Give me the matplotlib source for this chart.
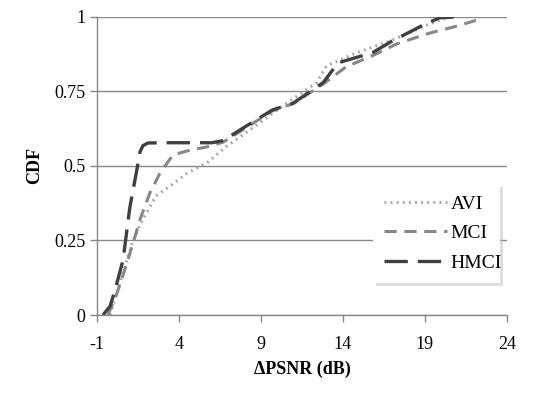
import matplotlib
matplotlib.use("Agg")
import matplotlib.pyplot as plt

plt.rcParams['font.family'] = ['Liberation Serif', 'DejaVu Serif']
plt.rcParams['axes.unicode_minus'] = False

# CDF curves
avi_x = [-0.2, 0.3, 0.8, 1.2, 1.6, 2.0, 2.6, 3.4, 4.5, 5.7, 6.9, 8.3, 10.3, 12.4, 13.0, 14.85, 16.9, 19.3, 20.5]
avi_y = [0.0, 0.09, 0.18, 0.25, 0.30, 0.34, 0.40, 0.43, 0.476, 0.51, 0.566, 0.62, 0.70, 0.78, 0.836, 0.88, 0.92, 0.977, 1.0]

mci_x = [-0.33, 0.2, 0.83, 1.3, 1.62, 2.23, 2.84, 3.63, 4.6, 5.7, 6.7, 8.0, 9.7, 11.0, 12.8, 14.2, 15.8, 17.3, 19.3, 21.0, 22.2, 22.5]
mci_y = [0.0, 0.07, 0.175, 0.26, 0.32, 0.41, 0.476, 0.537, 0.552, 0.564, 0.58, 0.625, 0.685, 0.71, 0.775, 0.833, 0.87, 0.91, 0.946, 0.97, 0.99, 1.0]

hmci_x = [-0.63, -0.2, 0.1, 0.59, 1.0, 1.43, 1.62, 1.8, 2.1, 3.0, 4.5, 6.0, 6.7, 7.9, 9.7, 10.95, 12.8, 13.7, 15.8, 16.9, 18.9, 19.9, 20.8]
hmci_y = [0.0, 0.03, 0.084, 0.185, 0.36, 0.487, 0.547, 0.568, 0.577, 0.578, 0.578, 0.578, 0.585, 0.627, 0.688, 0.71, 0.78, 0.846, 0.88, 0.916, 0.973, 0.997, 1.0]

x_ticks = [-1, 4, 9, 14, 19, 24]
y_ticks = [0, 0.25, 0.5, 0.75, 1]
y_labels = ['0', '0.25', '0.5', '0.75', '1']

fig = plt.figure(figsize=(5.33, 3.94), dpi=100)
ax = fig.add_axes([0.182, 0.2005, 0.769, 0.7565])

ax.plot(avi_x, avi_y, color='#a6a6a6', lw=2.2, ls=(0, (0.6, 1.4)), label='AVI')
ax.plot(mci_x, mci_y, color='#878787', lw=2.2, ls=(0, (4, 2.5)), label='MCI')
ax.plot(hmci_x, hmci_y, color='#404040', lw=2.4, ls=(0, (7, 3)), label='HMCI')

ax.set_xlim(-1, 24)
ax.set_ylim(0, 1)
ax.set_xticks(x_ticks)
ax.set_yticks(y_ticks)
ax.set_yticklabels(y_labels)
ax.tick_params(axis='both', labelsize=13, color='#888888', length=5, width=1, direction='out')
ax.tick_params(axis='x', pad=10)

ax.yaxis.grid(True, color='#888888', lw=1)
ax.set_axisbelow(True)
for s in ['top', 'right']:
    ax.spines[s].set_visible(False)
for s in ['left', 'bottom']:
    ax.spines[s].set_color('#888888')
    ax.spines[s].set_linewidth(1)

ax.set_xlabel('ΔPSNR (dB)', fontsize=13, fontweight='bold', labelpad=6)
ax.set_ylabel('CDF', fontsize=13, fontweight='bold', labelpad=8)

leg = ax.legend(loc='lower left', bbox_to_anchor=(0.649, 0.074, 0.358, 0.386),
                mode='expand', fontsize=14, handlelength=3.2, handletextpad=0.2,
                labelspacing=0.6, borderpad=0.6, fancybox=False, framealpha=1,
                shadow={'color': '0.75', 'alpha': 0.5, 'ox': 2, 'oy': -2})
leg.get_frame().set_edgecolor('white')
leg.get_frame().set_linewidth(0)

fig.savefig('out.png', dpi=100)
